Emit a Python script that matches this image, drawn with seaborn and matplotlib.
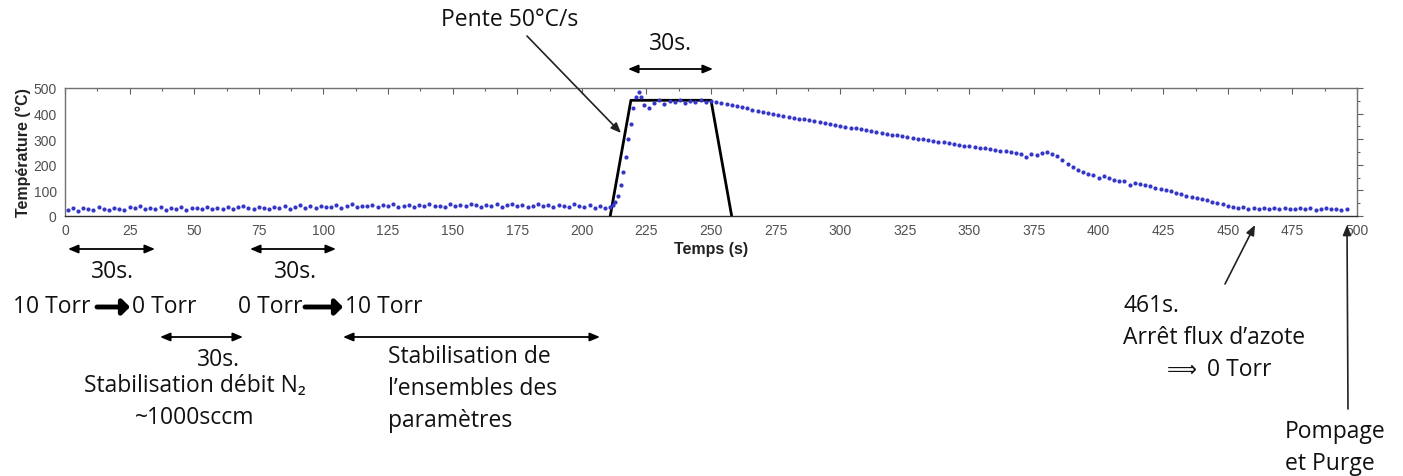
import numpy as np
import matplotlib
matplotlib.use("Agg")
import matplotlib.pyplot as plt
from matplotlib.ticker import MultipleLocator
import seaborn as sns

sns.set_style("white")
plt.rcParams['font.family'] = ['Liberation Sans', 'DejaVu Sans']

base_t = np.arange(1, 211, 2)
base_temp = [24, 30, 18, 33, 27, 22, 35, 29, 25, 31,
             28, 23, 34, 30, 38, 26, 33, 29, 36, 24,
             31, 27, 37, 25, 33, 30, 28, 35, 26, 32,
             29, 36, 27, 34, 38, 30, 26, 37, 33, 29,
             35, 31, 40, 28, 36, 42, 33, 38, 30, 41,
             37, 34, 43, 32, 39, 45, 35, 41, 38, 44,
             36, 42, 39, 46, 34, 40, 44, 37, 43, 38,
             45, 39, 41, 36, 47, 40, 43, 38, 46, 42,
             37, 44, 40, 48, 35, 42, 45, 39, 43, 36,
             41, 46, 38, 43, 35, 44, 40, 37, 45, 39,
             36, 42, 33, 40, 30]
rise_t = np.arange(211, 225)
rise_temp = [36, 42, 55, 80, 120, 170, 230, 300, 360, 420, 465, 485, 465, 435]
plateau_t = np.arange(226, 251, 2)
plateau_temp = [420, 440, 452, 438, 450, 445, 455, 442, 450, 447, 453, 444, 450]
cool_t = np.arange(252, 498, 2)
cool_temp = [446, 440, 436, 432, 428, 425, 420, 416, 412, 408,
             404, 398, 395, 390, 388, 384, 380, 377, 374, 370,
             366, 362, 360, 355, 352, 348, 345, 342, 338, 334,
             331, 328, 325, 322, 318, 315, 312, 308, 305, 302,
             300, 296, 294, 290, 288, 284, 282, 278, 275, 272,
             270, 266, 264, 260, 258, 255, 252, 250, 246, 244,
             232, 242, 240, 246, 250, 244, 234, 220, 205, 190,
             180, 172, 165, 160, 150, 158, 148, 142, 138, 135,
             120, 130, 126, 122, 118, 110, 105, 100, 96, 90,
             85, 80, 76, 72, 68, 62, 55, 50, 45, 40,
             36, 32, 34, 29, 31, 27, 33, 28, 30, 26,
             31, 27, 29, 33, 26, 30, 25, 28, 31, 27,
             29, 24, 27]

temps = np.concatenate([base_t, rise_t, plateau_t, cool_t])
mesure = np.concatenate([base_temp, rise_temp, plateau_temp, cool_temp])

# setpoint (black trapezoid)
consigne_t = [211, 219, 250, 258]
consigne_temp = [0, 452, 452, 0]

W, H = 1403, 477
fig = plt.figure(figsize=(W / 100, H / 100), dpi=100)
ax = fig.add_axes([65 / W, 1 - 217 / H, (1357 - 65) / W, (217 - 89) / H])

sns.lineplot(x=consigne_t, y=consigne_temp, color='black', lw=2, ax=ax,
             estimator=None, sort=False, zorder=2)
sns.scatterplot(x=temps, y=mesure, color='#3535c8', s=9, linewidth=0, ax=ax, zorder=3)

ax.set_xlim(0, 500)
ax.set_ylim(0, 500)
ax.xaxis.set_major_locator(MultipleLocator(25))
ax.xaxis.set_minor_locator(MultipleLocator(12.5))
ax.yaxis.set_major_locator(MultipleLocator(100))
ax.yaxis.set_minor_locator(MultipleLocator(50))
ax.tick_params(axis='x', which='both', direction='in', top=True, color='#606060', width=0.8)
ax.tick_params(axis='x', which='major', length=4, labelsize=10, labelcolor='#505050', pad=5)
ax.tick_params(axis='x', which='minor', length=2)
ax.tick_params(axis='y', which='both', direction='out', right=True, color='#606060', width=0.8)
ax.tick_params(axis='y', which='major', length=4, labelsize=10, labelcolor='#505050', pad=2)
ax.tick_params(axis='y', which='minor', length=2)
for s in ax.spines.values():
    s.set_color('#707070')
    s.set_linewidth(1)
ax.spines['bottom'].set_color('#303030')
ax.set_xlabel('Temps (s)', fontsize=11.5, fontweight='bold', color='#222222', labelpad=3)
ax.set_ylabel('Température (°C)', fontsize=11.5, fontweight='bold', color='#222222', labelpad=2)


def fp(x, y):
    return (x / W, 1 - y / H)


tf = ['Open Sans', 'DejaVu Sans']
fs = 16.5


def txt(x, y, s, ha='left', size=fs):
    fig.text(*fp(x, y), s, ha=ha, va='center', fontsize=size, family=tf, color='#111111')


def darrow(x0, x1, y):
    ax.annotate('', xy=fp(x1, y), xytext=fp(x0, y), xycoords='figure fraction',
                textcoords='figure fraction', annotation_clip=False,
                arrowprops=dict(arrowstyle='<|-|>,head_width=0.25,head_length=0.6',
                                color='black', lw=1.3, shrinkA=0, shrinkB=0))


def arrow(x0, y0, x1, y1):
    ax.annotate('', xy=fp(x1, y1), xytext=fp(x0, y0), xycoords='figure fraction',
                textcoords='figure fraction', annotation_clip=False,
                arrowprops=dict(arrowstyle='-|>,head_width=0.25,head_length=0.6',
                                color='#222222', lw=1.2, shrinkA=0, shrinkB=0))


def fat(x0, x1, y):
    ax.annotate('', xy=fp(x1, y), xytext=fp(x0, y), xycoords='figure fraction',
                textcoords='figure fraction', annotation_clip=False,
                arrowprops=dict(arrowstyle='-|>,head_width=0.45,head_length=0.45',
                                color='black', lw=3.5, shrinkA=0, shrinkB=0))


# top annotations
txt(441, 20, 'Pente 50°C/s')
arrow(527, 37, 621, 134)
txt(670, 44, '30s.', ha='center')
darrow(628, 713, 70)

# under the axis
darrow(68, 155, 250)
txt(112, 272, '30s.', ha='center')
darrow(250, 336, 250)
txt(295, 272, '30s.', ha='center')

txt(13, 307, '10 Torr')
fat(97, 130, 308)
txt(132, 307, '0 Torr')
txt(238, 307, '0 Torr')
fat(305, 343, 308)
txt(345, 307, '10 Torr')

darrow(160, 243, 338)
txt(218, 360, '30s.', ha='center')
txt(195, 386, 'Stabilisation débit N₂', ha='center')
txt(195, 418, '~1000sccm', ha='center')

darrow(343, 600, 338)
txt(388, 357, 'Stabilisation de')
txt(388, 389, 'l’ensembles des')
txt(388, 421, 'paramètres')

# right side
arrow(1225, 285, 1255, 226)
txt(1123, 306, '461s.')
txt(1123, 338, 'Arrêt flux d’azote')
txt(1167, 370, '⟹', size=15)
txt(1207, 370, '0 Torr')
arrow(1348, 410, 1347, 226)
txt(1285, 432, 'Pompage')
txt(1285, 464, 'et Purge')

fig.savefig('out.png', dpi=100)
